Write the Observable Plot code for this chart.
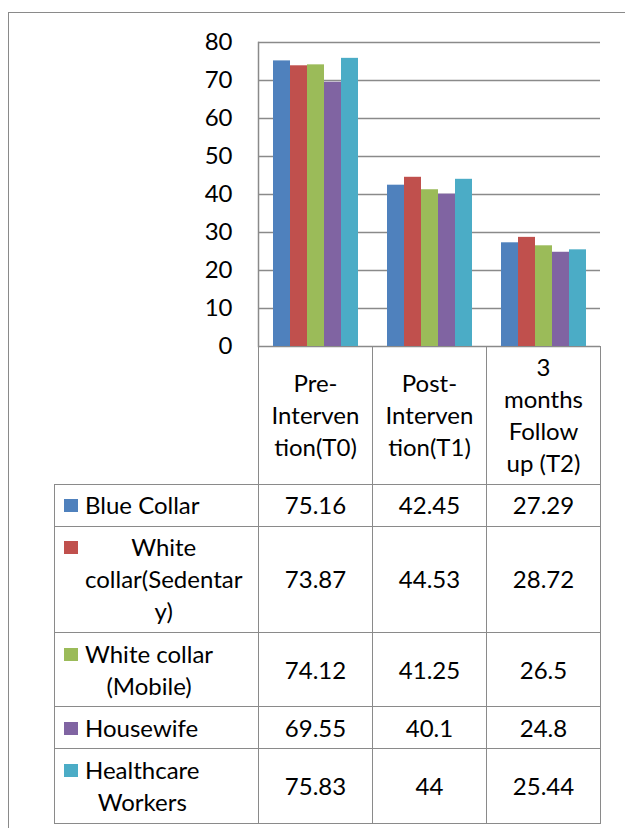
<!DOCTYPE html>
<html>
<head>
<meta charset="utf-8">
<script src="https://cdn.jsdelivr.net/npm/d3@7"></script>
<script src="https://cdn.jsdelivr.net/npm/@observablehq/plot@0.6"></script>
<style>
  html, body { margin: 0; padding: 0; background: #fff; overflow: hidden; }
  body { width: 625px; height: 828px; position: relative; font-family: Lato, "Noto Sans", sans-serif; color: #000; }
  #chart { position: absolute; left: 0; top: 0; }
  #frame { position: absolute; left: 8px; top: 12px; width: 800px; height: 1000px;
           border-left: 1.5px solid #8a8a8a; border-top: 1.5px solid #8a8a8a; pointer-events: none; }
  #tbl { position: absolute; left: 54px; top: 345.5px; border-collapse: collapse; table-layout: fixed;
         font-size: 24px; line-height: 32px; }
  #tbl td { border: 1.5px solid #8a8a8a; padding: 4.6px 0; text-align: center; vertical-align: middle;
            white-space: nowrap; overflow: visible; }
  #tbl td.blank { border-top: none; border-left: none; }
  #tbl td.lab { text-align: left; vertical-align: middle; padding-left: 9px; }
  .labwrap { display: flex; align-items: flex-start; }
  .key { width: 14px; height: 13px; margin-top: 10px; margin-right: 7px; flex: none; }
  .txt { display: inline-block; text-align: center; }
</style>
</head>
<body>
<div id="chart"></div>
<div id="frame"></div>
<script>
// ---- data ----
const groups = ["Pre-Intervention(T0)", "Post-Intervention(T1)", "3 months Follow up (T2)"];
const groupLabelLines = [["Pre-", "Interven", "tion(T0)"], ["Post-", "Interven", "tion(T1)"], ["3", "months", "Follow", "up (T2)"]];
const seriesNames = ["Blue Collar", "White collar(Sedentary)", "White collar (Mobile)", "Housewife", "Healthcare Workers"];
const seriesLabelLines = [["Blue Collar"], ["White", "collar(Sedentar", "y)"], ["White collar", "(Mobile)"], ["Housewife"], ["Healthcare", "Workers"]];
const blueCollar = [75.16, 42.45, 27.29];
const whiteCollarSedentary = [73.87, 44.53, 28.72];
const whiteCollarMobile = [74.12, 41.25, 26.5];
const housewife = [69.55, 40.1, 24.8];
const healthcareWorkers = [75.83, 44, 25.44];
const yTicks = [0, 10, 20, 30, 40, 50, 60, 70, 80];
const colors = ["#4F81BD", "#C0504D", "#9BBB59", "#8064A2", "#4BACC6"];

const seriesValues = [blueCollar, whiteCollarSedentary, whiteCollarMobile, housewife, healthcareWorkers];
const data = [];
seriesNames.forEach((s, i) => groups.forEach((g, j) => data.push({series: s, group: g, value: seriesValues[i][j]})));

const gridColor = "#8a8a8a";

const chart = Plot.plot({
  width: 625,
  height: 366,
  marginTop: 42,
  marginBottom: 20,
  marginLeft: 258,
  marginRight: 25,
  style: {fontFamily: "Lato, 'Noto Sans', sans-serif", fontSize: "24px", background: "transparent", color: "#000", overflow: "visible"},
  fx: {domain: groups, padding: 0, axis: null, label: null},
  x: {domain: seriesNames, paddingInner: 0, paddingOuter: 0.75, axis: null, label: null},
  y: {domain: [0, 80], label: null},
  color: {domain: seriesNames, range: colors},
  marks: [
    Plot.gridY(yTicks, {stroke: gridColor, strokeOpacity: 1, strokeWidth: 1.5}),
    Plot.barY(data, {fx: "group", x: "series", y: "value", fill: "series"}),
    Plot.frame({anchor: "left", stroke: gridColor, strokeWidth: 1.5, facetAnchor: "left"}),
    Plot.axisY(yTicks, {tickSize: 0, tickPadding: 26, fontSize: 24, fill: "#000", label: null})
  ]
});
document.getElementById("chart").appendChild(chart);

// ---- data table below the plot ----
const table = d3.select("body").append("table").attr("id", "tbl");
const cg = table.append("colgroup");
[204, 114, 114, 114].forEach(w => cg.append("col").style("width", w + "px"));
const head = table.append("tr");
head.append("td").attr("class", "blank");
groupLabelLines.forEach(lines => head.append("td").html(lines.join("<br>")));
seriesNames.forEach((s, i) => {
  const tr = table.append("tr");
  const lab = tr.append("td").attr("class", "lab").append("div").attr("class", "labwrap");
  lab.append("span").attr("class", "key").style("background", colors[i]);
  lab.append("span").attr("class", "txt").html(seriesLabelLines[i].join("<br>"));
  seriesValues[i].forEach(v => tr.append("td").text(String(v)));
});
</script>
</body>
</html>
